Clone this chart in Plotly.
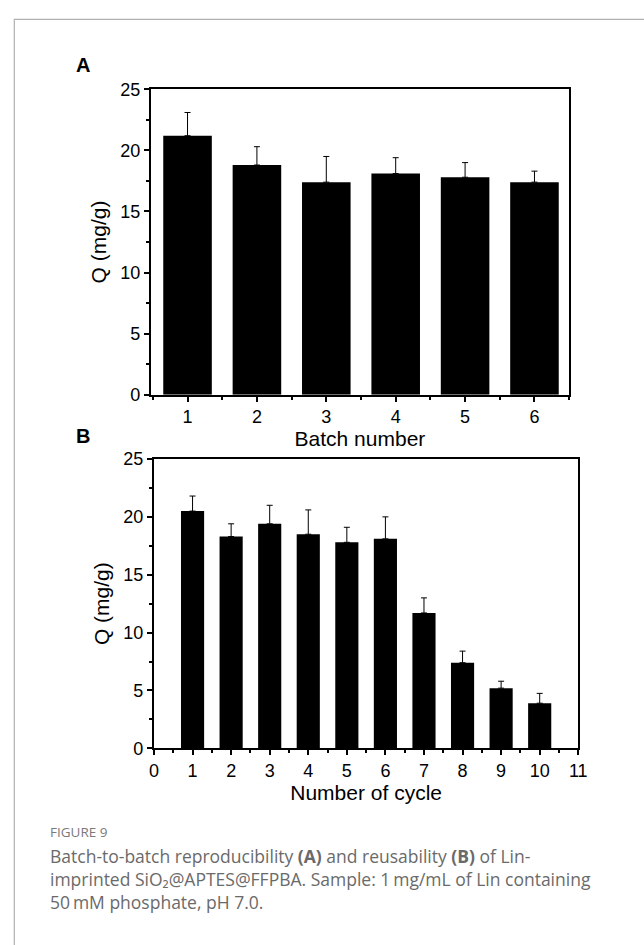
import plotly.graph_objects as go

W, H = 644, 945

# Panel A data
batch = [1, 2, 3, 4, 5, 6]
q_batch = [21.2, 18.8, 17.4, 18.1, 17.8, 17.4]
err_batch = [1.9, 1.5, 2.1, 1.3, 1.2, 0.9]

# Panel B data
cycle = [1, 2, 3, 4, 5, 6, 7, 8, 9, 10]
q_cycle = [20.5, 18.3, 19.4, 18.5, 17.8, 18.1, 11.7, 7.4, 5.2, 3.9]
err_cycle = [1.3, 1.1, 1.6, 2.1, 1.3, 1.9, 1.3, 1.0, 0.6, 0.85]

y_ticks = [0, 5, 10, 15, 20, 25]
x_ticks_a = [1, 2, 3, 4, 5, 6]
x_ticks_b = list(range(0, 12))

FONT = "Liberation Sans, Arial, sans-serif"
CAP_FONT = "Open Sans, Noto Sans, sans-serif"
TICK_SIZE = 18
TITLE_SIZE = 21


def px_x(p):
    return p / W


def px_y(p):
    return 1 - p / H


fig = go.Figure()

fig.add_trace(go.Bar(
    x=batch, y=q_batch, width=0.7,
    marker=dict(color="black", line=dict(width=0)),
    error_y=dict(type="data", array=err_batch, arrayminus=[0] * len(err_batch),
                 symmetric=False, color="black", thickness=1, width=3),
    xaxis="x", yaxis="y", showlegend=False,
))
fig.add_trace(go.Bar(
    x=cycle, y=q_cycle, width=0.6,
    marker=dict(color="black", line=dict(width=0)),
    error_y=dict(type="data", array=err_cycle, arrayminus=[0] * len(err_cycle),
                 symmetric=False, color="black", thickness=1, width=3),
    xaxis="x2", yaxis="y2", showlegend=False,
))

axis_common = dict(
    showline=True, linecolor="black", linewidth=2, mirror=True,
    ticks="outside", ticklen=5, tickwidth=2, tickcolor="black",
    showgrid=False, zeroline=False,
)
minor_common = dict(ticks="outside", ticklen=3, tickwidth=2, tickcolor="black")

fig.update_layout(
    width=W, height=H,
    margin=dict(l=0, r=0, t=0, b=0),
    paper_bgcolor="white", plot_bgcolor="white",
    font=dict(family=FONT, color="black"),
    xaxis=dict(
        **axis_common,
        domain=[px_x(149), px_x(576.7)],
        range=[0.47, 6.5],
        tickvals=x_ticks_a,
        tickfont=dict(size=TICK_SIZE),
        minor=dict(**minor_common, tickvals=[0.5, 1.5, 2.5, 3.5, 4.5, 5.5, 6.5]),
        title=dict(text="Batch number", font=dict(size=TITLE_SIZE), standoff=4),
        anchor="y",
    ),
    yaxis=dict(
        **axis_common,
        domain=[px_y(393), px_y(81)],
        range=[0, 25],
        tickvals=y_ticks,
        tickfont=dict(size=TICK_SIZE),
        minor=dict(**minor_common, tickvals=[2.5, 7.5, 12.5, 17.5, 22.5]),
        title=dict(text="Q (mg/g)", font=dict(size=TITLE_SIZE), standoff=8),
        anchor="x",
    ),
    xaxis2=dict(
        **axis_common,
        domain=[px_x(152.3), px_x(586)],
        range=[0, 11],
        tickvals=x_ticks_b,
        tickfont=dict(size=TICK_SIZE),
        minor=dict(**minor_common, tickvals=[i + 0.5 for i in range(11)]),
        title=dict(text="Number of cycle", font=dict(size=TITLE_SIZE), standoff=2),
        anchor="y2",
    ),
    yaxis2=dict(
        **axis_common,
        domain=[px_y(754.3), px_y(458.7)],
        range=[0, 25],
        tickvals=y_ticks,
        tickfont=dict(size=TICK_SIZE),
        minor=dict(**minor_common, tickvals=[2.5, 7.5, 12.5, 17.5, 22.5]),
        title=dict(text="Q (mg/g)", font=dict(size=TITLE_SIZE), standoff=8),
        anchor="x2",
    ),
)

# outer frame (top and left visible)
fig.add_shape(type="rect", xref="paper", yref="paper",
              x0=px_x(9.5), x1=1.05, y0=-0.05, y1=px_y(9.5),
              line=dict(color="#b0b0b0", width=1.2), layer="below")

# panel labels
fig.add_annotation(text="<b>A</b>", x=px_x(80), y=px_y(56), xref="paper", yref="paper",
                   xanchor="center", yanchor="middle", showarrow=False,
                   font=dict(family=FONT, size=20, color="black"))
fig.add_annotation(text="<b>B</b>", x=px_x(80), y=px_y(435), xref="paper", yref="paper",
                   xanchor="center", yanchor="middle", showarrow=False,
                   font=dict(family=FONT, size=20, color="black"))

# caption
cap_lines = [
    ("FIGURE 9", 840, 13.5, "#7a7a7a"),
    ("Batch-to-batch reproducibility <b>(A)</b> and reusability <b>(B)</b> of Lin-", 864, 17.5, "#6a6a6a"),
    ("imprinted SiO\u2082@APTES@FFPBA. Sample: 1\u2009mg/mL of Lin containing", 888, 17.5, "#6a6a6a"),
    ("50\u2009mM phosphate, pH 7.0.", 911, 17.5, "#6a6a6a"),
]
for txt, yy, sz, col in cap_lines:
    fig.add_annotation(text=txt, x=px_x(44), y=px_y(yy), xref="paper", yref="paper",
                       xanchor="left", yanchor="middle", showarrow=False,
                       font=dict(family=CAP_FONT, size=sz, color=col))

fig.write_html(
    "out.html",
    config={"displayModeBar": False},
    post_script="document.body.style.margin='0';document.body.style.padding='0';"
                "document.documentElement.style.overflow='hidden';",
)
